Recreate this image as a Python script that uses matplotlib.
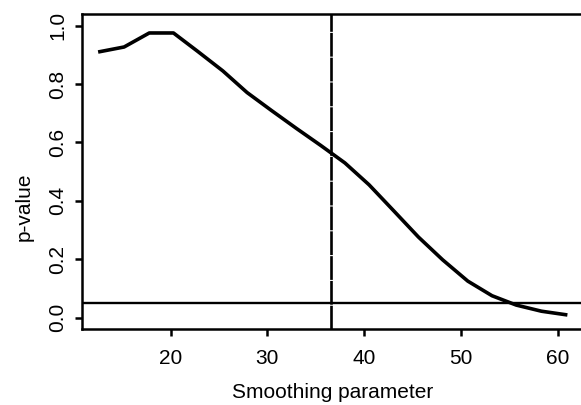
import numpy as np
import matplotlib
matplotlib.use("Agg")
import matplotlib.pyplot as plt

# smoothing parameter grid and the p-values
smooth = [12.7, 15.2, 17.8, 20.3, 22.8, 25.4, 27.9, 30.4, 33.0, 35.5,
          38.0, 40.5, 43.1, 45.6, 48.1, 50.7, 53.2, 55.7, 58.3, 60.8]
pval = [0.911, 0.927, 0.975, 0.975, 0.912, 0.845, 0.771, 0.710, 0.648, 0.590,
        0.530, 0.455, 0.364, 0.276, 0.198, 0.125, 0.075, 0.043, 0.022, 0.010]
chosen = 36.6      # vertical marker
alpha = 0.05       # horizontal reference
xticks = [20, 30, 40, 50, 60]
yticks = [0.0, 0.2, 0.4, 0.6, 0.8, 1.0]

plt.rcParams['font.family'] = ['Liberation Sans', 'DejaVu Sans']
fs = 15

fig = plt.figure(figsize=(5.81, 4.05), dpi=100)
ax = fig.add_axes([81.5/581, 1-329.3/405, (584-81.5)/581, (329.3-14)/405])

ax.plot(smooth, pval, color='black', lw=2.6, solid_joinstyle='round')
ax.axhline(alpha, color='black', lw=1.7)
ax.axvline(chosen, color='black', lw=1.9, linestyle=(0, (9, 0.4)))

ax.set_xlim(10.8, 62.7)
ax.set_ylim(-0.04, 1.04)
ax.set_xticks(xticks)
ax.set_yticks(yticks)
ax.set_xticklabels([str(t) for t in xticks])
ax.set_yticklabels(['%.1f' % t for t in yticks], rotation=90, va='center')

for s in ax.spines.values():
    s.set_linewidth(1.8)
ax.spines['right'].set_visible(False)

ax.tick_params(axis='both', direction='out', length=5, width=1.8,
               labelsize=fs, colors='black')
ax.tick_params(axis='x', pad=9)
ax.tick_params(axis='y', pad=5.5)

ax.set_xlabel('Smoothing parameter', fontsize=fs, va='center')
ax.set_ylabel('p-value', fontsize=fs, va='center')
ax.xaxis.set_label_coords(0.5, -0.202)
ax.yaxis.set_label_coords(-0.114, 0.388)

fig.savefig('out.png', dpi=100)
